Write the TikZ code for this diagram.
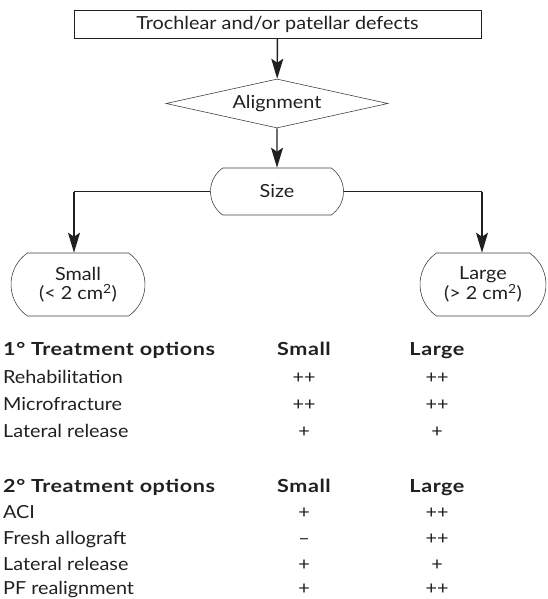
\documentclass[tikz,border=0pt]{standalone}
\usepackage{fontspec}
\setmainfont{Lato}[FakeStretch=1.1,BoldFeatures={FakeStretch=1.2,LetterSpace=3}]
\usetikzlibrary{shapes.geometric,shapes.misc,arrows.meta}
\definecolor{ink}{HTML}{231F20}
\begin{document}
\begin{tikzpicture}[x=1pt,y=-1pt,
 every node/.style={text=ink,font=\fontsize{18}{19.5}\selectfont},
 boxst/.style={draw=ink,line width=0.8pt,minimum width=407pt,minimum height=28pt,inner sep=0pt},
 diamst/.style={diamond,draw=ink!85,line width=0.6pt,minimum width=222pt,minimum height=49pt,aspect=4.5,inner sep=0pt},
 pillst/.style={rounded rectangle,rounded rectangle arc length=110,draw=ink!85,line width=0.6pt,inner sep=0pt,align=center},
 arr/.style={draw=ink,line width=1.4pt,-{Stealth[length=20pt,width=12pt,inset=4pt]}},
 link/.style={draw=ink,line width=0.9pt},
 lab/.style={anchor=base west,inner sep=0pt},
 hd/.style={lab,font=\bfseries\fontsize{18}{19.5}\selectfont},
 colst/.style={anchor=base,inner sep=0pt},
 colhd/.style={colst,font=\bfseries\fontsize{18}{19.5}\selectfont},
]
\useasboundingbox (0,0) rectangle (548,599);

\node[boxst] (top) at (277.5,24.5) {Trochlear and/or patellar defects};
\node[diamst] (align) at (277,103.5) {Alignment};
\node[pillst,minimum width=133pt,minimum height=47pt] (size) at (277,191.5) {Size};
\node[pillst,minimum width=134pt,minimum height=63pt] (small) at (78,284.5) {Small\\(< 2 cm\textsuperscript{2})};
\node[pillst,minimum width=126pt,minimum height=63pt] (large) at (483,284.5) {Large\\(> 2 cm\textsuperscript{2})};

\draw[arr] (top) -- (align);
\draw[arr] (align) -- (size);
\coordinate (sl) at (74,191.5);
\coordinate (sr) at (482,191.5);
\draw[link] (size.west) -- (sl);
\draw[link] (size.east) -- (sr);
\draw[arr] (sl) -- (small.north -| sl);
\draw[arr] (sr) -- (large.north -| sr);

% table, block 1
\node[hd] (h1) at (3,355) {1° Treatment options};
\node[colhd] (h1s) at (304,355) {Small};
\node[colhd] (h1l) at (437,355) {Large};
\foreach \y/\t/\s/\l [count=\i] in {383/Rehabilitation/++/++, 410/Microfracture/++/++, 437/Lateral release/+/+}{
  \node[lab] (a\i) at (3,\y) {\t};
  \node[colst] (as\i) at (304,\y) {\s};
  \node[colst] (al\i) at (437,\y) {\l};
}
% table, block 2
\node[hd] (h2) at (3,492) {2° Treatment options};
\node[colhd] (h2s) at (304,492) {Small};
\node[colhd] (h2l) at (437,492) {Large};
\foreach \y/\t/\s/\l [count=\i] in {518/ACI/+/++, 544.5/Fresh allograft/–/++, 570.5/Lateral release/+/+, 594.5/PF realignment/+/++}{
  \node[lab] (b\i) at (3,\y) {\t};
  \node[colst] (bs\i) at (304,\y) {\s};
  \node[colst] (bl\i) at (437,\y) {\l};
}
\end{tikzpicture}
\end{document}
